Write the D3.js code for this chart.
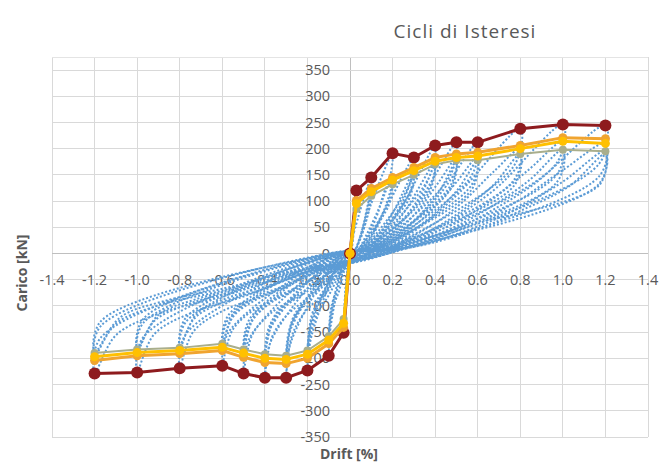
<!DOCTYPE html>
<html><head><meta charset="utf-8">
<script src="https://cdn.jsdelivr.net/npm/d3@7"></script>
<style>body{margin:0;background:#fff}svg{display:block}</style>
</head><body>
<svg id="chart" width="661" height="464"></svg>
<script>
// ---- tick labels ----
const xTicks = [-1.4,-1.2,-1.0,-0.8,-0.6,-0.4,-0.2,0.0,0.2,0.4,0.6,0.8,1.0,1.2,1.4];
const yTicks = [-350,-300,-250,-200,-150,-100,-50,0,50,100,150,200,250,300,350];

// ---- envelope series [drift %, load kN] ----
const envCycle1 = [[-1.2,-229],[-1.0,-227],[-0.8,-219],[-0.6,-214],[-0.5,-229],[-0.4,-237],[-0.3,-237],[-0.2,-223],[-0.1,-195],[-0.03,-151],[0,0],
  [0.03,120],[0.1,145],[0.2,191],[0.3,183],[0.4,206],[0.5,212],[0.6,212],[0.8,238],[1.0,246],[1.2,244]];
const envCycle2 = [[-1.2,-204],[-1.0,-195],[-0.8,-191],[-0.6,-185],[-0.5,-198],[-0.4,-208],[-0.3,-210],[-0.2,-200],[-0.1,-172],[-0.03,-141],[0,0],
  [0.03,101],[0.1,124],[0.2,145],[0.3,164],[0.4,183],[0.5,190],[0.6,193],[0.8,206],[1.0,221],[1.2,219]];
const envCycle3 = [[-1.2,-190],[-1.0,-183],[-0.8,-180],[-0.6,-172],[-0.5,-183],[-0.4,-192],[-0.3,-195],[-0.2,-185],[-0.1,-158],[-0.03,-125],[0,0],
  [0.03,85],[0.1,110],[0.2,132],[0.3,150],[0.4,170],[0.5,178],[0.6,178],[0.8,190],[1.0,198],[1.2,195]];
const envCycle4 = [[-1.2,-197],[-1.0,-189],[-0.8,-185],[-0.6,-179],[-0.5,-190],[-0.4,-200],[-0.3,-202],[-0.2,-192],[-0.1,-165],[-0.03,-133],[0,0],
  [0.03,95],[0.1,118],[0.2,140],[0.3,158],[0.4,176],[0.5,183],[0.6,186],[0.8,200],[1.0,214],[1.2,210]];

// ---- hysteresis cycles (blue dotted), key points read per amplitude ----
const loop003 = [[0,0],[0.03,120],[0.02,60],[0.005,0],[-0.015,-45],[-0.03,-151],[-0.02,-90],[-0.003,0],[0.015,40],
  [0.03,95],[0.02,50],[0.005,0],[-0.015,-40],[-0.03,-133],[-0.02,-80],[-0.003,0],[0.015,35]];
const loop010 = [[0.1,145],[0.09,100],[0.02,0],[-0.03,-37],[-0.05,-70],[-0.075,-98],[-0.092,-133],[-0.1,-195],[-0.09,-137],[-0.01,0],[0.02,6],[0.046,30],[0.065,58],[0.084,94],
  [0.1,118],[0.09,83],[0.02,0],[-0.03,-31],[-0.05,-59],[-0.075,-83],[-0.092,-112],[-0.1,-165],[-0.09,-116],[-0.01,0],[0.02,5],[0.046,25],[0.065,47],[0.084,77]];
const loop020 = [[0.2,191],[0.18,134],[0.03,0],[-0.05,-42],[-0.1,-80],[-0.15,-112],[-0.184,-152],[-0.2,-223],[-0.18,-156],[-0.016,0],[0.04,8],[0.092,40],[0.13,76],[0.168,124],
  [0.2,140],[0.18,98],[0.03,0],[-0.05,-36],[-0.1,-69],[-0.15,-96],[-0.184,-131],[-0.2,-192],[-0.18,-134],[-0.016,0],[0.04,6],[0.092,29],[0.13,56],[0.168,91],
  [0.2,132],[0.18,90],[0.024,0],[-0.044,-31],[-0.096,-63],[-0.146,-89],[-0.18,-118],[-0.2,-185],[-0.18,-126],[-0.012,0],[0.044,7],[0.096,29],[0.134,55],[0.172,87]];
const loop030 = [[0.3,183],[0.275,128],[0.045,0],[-0.075,-45],[-0.15,-85],[-0.225,-119],[-0.276,-161],[-0.3,-237],[-0.275,-166],[-0.024,0],[0.06,7],[0.138,38],[0.195,73],[0.252,119],
  [0.3,158],[0.275,111],[0.045,0],[-0.075,-38],[-0.15,-73],[-0.225,-101],[-0.276,-137],[-0.3,-202],[-0.275,-141],[-0.024,0],[0.06,6],[0.138,33],[0.195,63],[0.252,103],
  [0.3,150],[0.275,102],[0.036,0],[-0.066,-33],[-0.144,-66],[-0.219,-94],[-0.27,-125],[-0.3,-195],[-0.275,-133],[-0.018,0],[0.066,8],[0.144,33],[0.201,63],[0.258,99]];
const loop040 = [[0.4,206],[0.37,144],[0.06,0],[-0.1,-45],[-0.2,-85],[-0.3,-119],[-0.368,-161],[-0.4,-237],[-0.37,-166],[-0.032,0],[0.08,8],[0.184,43],[0.26,82],[0.336,134],
  [0.4,176],[0.37,123],[0.06,0],[-0.1,-38],[-0.2,-72],[-0.3,-100],[-0.368,-136],[-0.4,-200],[-0.37,-140],[-0.032,0],[0.08,7],[0.184,37],[0.26,70],[0.336,114],
  [0.4,170],[0.37,116],[0.048,0],[-0.088,-33],[-0.192,-65],[-0.292,-92],[-0.36,-123],[-0.4,-192],[-0.37,-131],[-0.024,0],[0.088,9],[0.192,37],[0.268,71],[0.344,112]];
const loop050 = [[0.5,212],[0.47,148],[0.075,0],[-0.125,-44],[-0.25,-82],[-0.375,-115],[-0.46,-156],[-0.5,-229],[-0.47,-160],[-0.04,0],[0.1,8],[0.23,45],[0.325,85],[0.42,138],
  [0.5,183],[0.47,128],[0.075,0],[-0.125,-36],[-0.25,-68],[-0.375,-95],[-0.46,-129],[-0.5,-190],[-0.47,-133],[-0.04,0],[0.1,7],[0.23,38],[0.325,73],[0.42,119],
  [0.5,178],[0.47,121],[0.06,0],[-0.11,-31],[-0.24,-62],[-0.365,-88],[-0.45,-117],[-0.5,-183],[-0.47,-124],[-0.03,0],[0.11,9],[0.24,39],[0.335,75],[0.43,117]];
const loop060 = [[0.6,212],[0.57,148],[0.09,0],[-0.15,-41],[-0.3,-77],[-0.45,-107],[-0.552,-146],[-0.6,-214],[-0.57,-150],[-0.048,0],[0.12,8],[0.276,45],[0.39,85],[0.504,138],
  [0.6,186],[0.57,130],[0.09,0],[-0.15,-34],[-0.3,-64],[-0.45,-90],[-0.552,-122],[-0.6,-179],[-0.57,-125],[-0.048,0],[0.12,7],[0.276,39],[0.39,74],[0.504,121],
  [0.6,178],[0.57,121],[0.072,0],[-0.132,-29],[-0.288,-58],[-0.438,-83],[-0.54,-110],[-0.6,-172],[-0.57,-117],[-0.036,0],[0.132,9],[0.288,39],[0.402,75],[0.516,117]];
const loop080 = [[0.8,238],[0.77,167],[0.12,0],[-0.2,-42],[-0.4,-79],[-0.6,-110],[-0.736,-149],[-0.8,-219],[-0.77,-153],[-0.064,0],[0.16,10],[0.368,50],[0.52,95],[0.672,155],
  [0.8,200],[0.77,140],[0.12,0],[-0.2,-35],[-0.4,-67],[-0.6,-93],[-0.736,-126],[-0.8,-185],[-0.77,-130],[-0.064,0],[0.16,8],[0.368,42],[0.52,80],[0.672,130],
  [0.8,190],[0.77,129],[0.096,0],[-0.176,-31],[-0.384,-61],[-0.584,-86],[-0.72,-115],[-0.8,-180],[-0.77,-122],[-0.048,0],[0.176,10],[0.384,42],[0.536,80],[0.688,125]];
const loop100 = [[1.0,246],[0.97,172],[0.15,0],[-0.25,-43],[-0.5,-82],[-0.75,-114],[-0.92,-154],[-1.0,-227],[-0.97,-159],[-0.08,0],[0.2,10],[0.46,52],[0.65,98],[0.84,160],
  [1.0,214],[0.97,150],[0.15,0],[-0.25,-36],[-0.5,-68],[-0.75,-95],[-0.92,-129],[-1.0,-189],[-0.97,-132],[-0.08,0],[0.2,9],[0.46,45],[0.65,86],[0.84,139],
  [1.0,198],[0.97,135],[0.12,0],[-0.22,-31],[-0.48,-62],[-0.73,-88],[-0.9,-117],[-1.0,-183],[-0.97,-124],[-0.06,0],[0.22,10],[0.48,44],[0.67,83],[0.86,131]];
const loop120 = [[1.2,244],[1.17,171],[0.18,0],[-0.3,-44],[-0.6,-82],[-0.9,-115],[-1.1,-156],[-1.2,-229],[-1.17,-160],[-0.1,0],[0.24,10],[0.55,51],[0.78,98],[1.0,159],
  [1.2,210],[1.17,147],[0.18,0],[-0.3,-37],[-0.6,-71],[-0.9,-99],[-1.1,-134],[-1.2,-197],[-1.17,-138],[-0.1,0],[0.24,8],[0.55,44],[0.78,84],[1.0,137],
  [1.2,195],[1.17,133],[0.144,0],[-0.264,-32],[-0.576,-65],[-0.876,-91],[-1.08,-122],[-1.2,-190],[-1.17,-129],[-0.072,0],[0.264,10],[0.576,43],[0.804,82],[1.032,129],
  [1.2,190],[1.17,130],[0.6,60]];
const cycles = [loop003, loop010, loop020, loop030, loop040, loop050, loop060, loop080, loop100, loop120];

// ---- text ----
const titleText = "Cicli di Isteresi";
const xTitle = "Drift [%]";
const yTitle = "Carico [kN]";

const svg = d3.select("#chart");
const x = d3.scaleLinear().domain([-1.4, 1.4]).range([52, 648]);
const y = d3.scaleLinear().domain([-350, 350]).range([437, 70]);
const fontFam = "'Open Sans', 'Liberation Sans', sans-serif";
const txtCol = "#595959";

// grid
const grid = svg.append("g");
grid.selectAll("line.v").data(xTicks).join("line")
  .attr("x1", d => x(d)).attr("x2", d => x(d))
  .attr("y1", 57).attr("y2", y(-350))
  .attr("stroke", d => d === 0 ? "#bfbfbf" : "#d9d9d9").attr("stroke-width", 1).attr("shape-rendering", "crispEdges");
grid.selectAll("line.h").data(yTicks).join("line")
  .attr("x1", x(-1.4)).attr("x2", x(1.4))
  .attr("y1", d => y(d)).attr("y2", d => y(d))
  .attr("stroke", d => d === 0 ? "#bfbfbf" : "#d9d9d9").attr("stroke-width", 1).attr("shape-rendering", "crispEdges");
grid.append("line").attr("x1", x(-1.4)).attr("x2", x(1.4)).attr("y1", 57).attr("y2", 57)
  .attr("stroke", "#e4e4e4").attr("shape-rendering", "crispEdges");

// axis tick labels (drawn beneath the series, as in the reference)
svg.append("g").selectAll("text").data(yTicks).join("text")
  .attr("x", x(0) - 20).attr("y", d => y(d)).attr("dy", "0.35em")
  .attr("text-anchor", "end").attr("font-family", fontFam).attr("font-size", 14.5)
  .attr("fill", txtCol).text(d => String(d));
svg.append("g").selectAll("text").data(xTicks).join("text")
  .attr("x", d => x(d)).attr("y", y(-50)).attr("dy", "0.35em")
  .attr("text-anchor", "middle").attr("font-family", fontFam).attr("font-size", 14.5)
  .attr("fill", txtCol).text(d => d.toFixed(1));

// blue cycles
const line = d3.line().x(d => x(d[0])).y(d => y(d[1])).curve(d3.curveCatmullRom.alpha(0.5));
const allCycles = [[0,0]].concat(...cycles);
svg.append("path").datum(allCycles).attr("d", line)
  .attr("fill", "none").attr("stroke", "#5b9bd5").attr("stroke-width", 2)
  .attr("stroke-dasharray", "2 2");

// envelopes
const lineLin = d3.line().x(d => x(d[0])).y(d => y(d[1]));
function envelope(data, color, w, r) {
  const g = svg.append("g");
  g.append("path").datum(data).attr("d", lineLin).attr("fill", "none")
    .attr("stroke", color).attr("stroke-width", w).attr("stroke-linejoin", "round");
  g.selectAll("circle").data(data).join("circle")
    .attr("cx", d => x(d[0])).attr("cy", d => y(d[1])).attr("r", r).attr("fill", color);
}
envelope(envCycle1, "#8e1b1e", 3, 6);
envelope(envCycle2, "#f0a430", 3, 4.5);
envelope(envCycle3, "#a9ae8c", 2, 4);
envelope(envCycle4, "#ffc000", 3, 4.5);

// titles
svg.append("text").attr("x", 465).attr("y", 38).attr("text-anchor", "middle")
  .attr("font-family", fontFam).attr("font-size", 19).attr("letter-spacing", 1).attr("fill", txtCol).text(titleText);
svg.append("text").attr("x", 349).attr("y", 459).attr("text-anchor", "middle")
  .attr("font-family", fontFam).attr("font-size", 14).attr("font-weight", "bold").attr("fill", txtCol).text(xTitle);
svg.append("text").attr("transform", "translate(27,273) rotate(-90)").attr("text-anchor", "middle")
  .attr("font-family", fontFam).attr("font-size", 14).attr("font-weight", "bold").attr("fill", txtCol).text(yTitle);
</script>
</body></html>
